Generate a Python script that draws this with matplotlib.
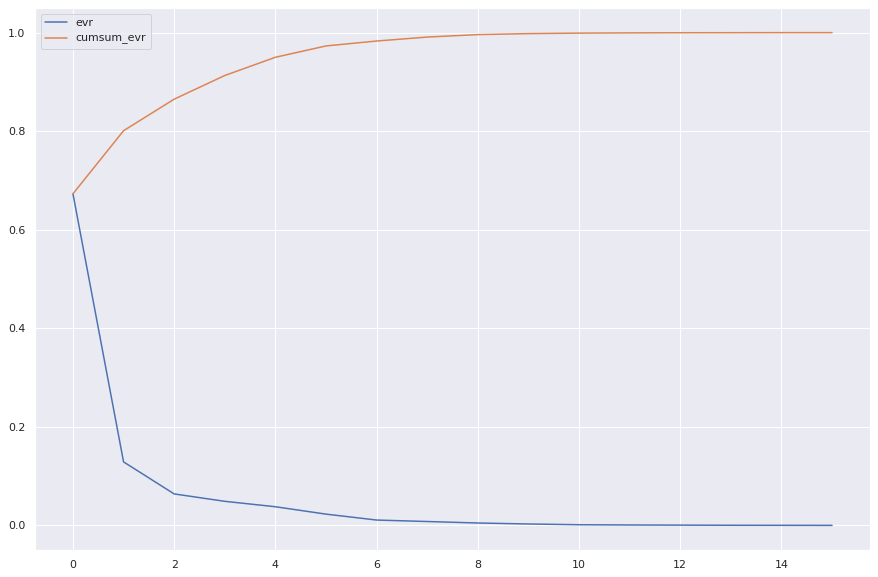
import matplotlib
matplotlib.use("Agg")
from matplotlib import pyplot as plt
import seaborn as sns
import numpy as np

components = np.arange(16)
evr = [0.673, 0.129, 0.064, 0.049, 0.038, 0.023, 0.011, 0.008, 0.005, 0.003,
       0.0015, 0.001, 0.0007, 0.0004, 0.0003, 0.0002]
cumsum_evr = [0.673, 0.801, 0.865, 0.913, 0.950, 0.973, 0.983, 0.991, 0.996, 0.998,
              0.999, 0.9995, 0.9998, 0.9999, 1.0, 1.0]

sns.set_theme()

fig = plt.figure(figsize=(878 / 72, 577 / 72), dpi=72)
ax = fig.add_axes([35 / 878, 1 - 550 / 577, 835 / 878, 542 / 577])
ax.plot(components, evr, label="evr")
ax.plot(components, cumsum_evr, label="cumsum_evr")
ax.legend(loc="upper left")
fig.savefig("out.png", dpi=72)
